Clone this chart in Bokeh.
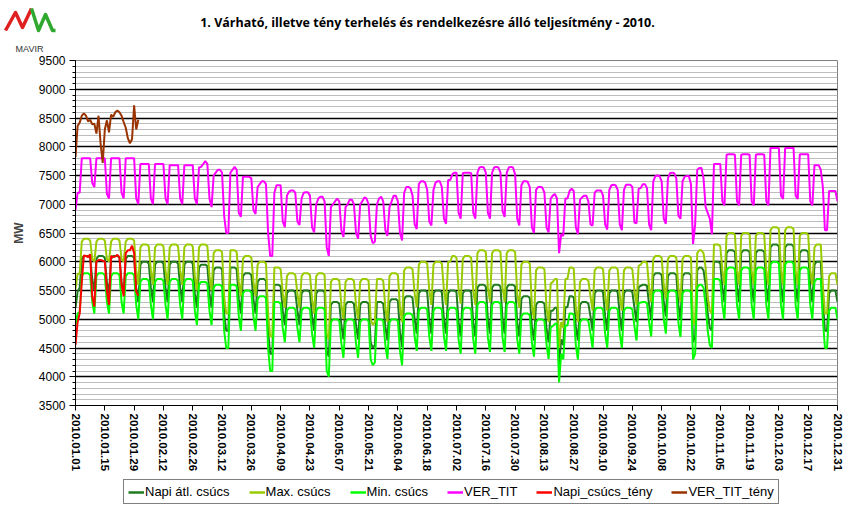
import pandas as pd
from bokeh.plotting import figure
from bokeh.layouts import column
from bokeh.models import (Range1d, FixedTicker, SingleIntervalTicker, Legend, LegendItem,
                          DatetimeTickFormatter)
from bokeh.core.properties import value
from bokeh.embed import file_html
from bokeh.resources import INLINE

title_text = "1. Várható, illetve tény terhelés és rendelkezésre álló teljesítmény - 2010."
logo_text = "MAVIR"
y_label = "MW"
dates = pd.date_range("2010-01-01", "2010-12-31", freq="D")

tick_labels = ["2010.01.01", "2010.01.15", "2010.01.29", "2010.02.12", "2010.02.26", "2010.03.12",
               "2010.03.26", "2010.04.09", "2010.04.23", "2010.05.07", "2010.05.21", "2010.06.04",
               "2010.06.18", "2010.07.02", "2010.07.16", "2010.07.30", "2010.08.13", "2010.08.27",
               "2010.09.10", "2010.09.24", "2010.10.08", "2010.10.22", "2010.11.05", "2010.11.19",
               "2010.12.03", "2010.12.17", "2010.12.31"]

series_names = ["Napi átl. csúcs", "Max. csúcs", "Min. csúcs", "VER_TIT", "Napi_csúcs_tény", "VER_TIT_tény"]
series_colors = ["#1E7B1E", "#99CC00", "#00FF00", "#FF00FF", "#FF0000", "#993300"]

# daily values (Jan 1-3, then Monday..Sunday weeks, then Dec 27-31)
napi_atl_csucs = [
    5200, 5480, 5550,
    6050, 6100, 6100, 6100, 6070, 5700, 5500,
    6050, 6100, 6100, 6100, 6070, 5650, 5450,
    6050, 6100, 6100, 6100, 6070, 5650, 5450,
    6050, 6100, 6100, 6100, 6070, 5550, 5300,
    5950, 6000, 6000, 6000, 5970, 5550, 5300,
    5950, 6000, 6000, 6000, 5970, 5550, 5300,
    5950, 6000, 6000, 6000, 5970, 5550, 5300,
    5950, 6000, 6000, 6000, 5970, 5450, 5200,
    5900, 5950, 5950, 5950, 5920, 5450, 5200,
    5850, 5900, 5900, 5900, 5870, 5100, 4800,
    4800, 5900, 5900, 5900, 5870, 5350, 5100,
    5750, 5800, 5800, 5800, 5770, 5350, 5100,
    5650, 5700, 5700, 5700, 5670, 4800, 4400,
    4400, 5600, 5600, 5600, 5570, 5150, 4900,
    5450, 5500, 5500, 5500, 5470, 5150, 4900,
    5450, 5500, 5500, 5500, 5470, 5050, 4800,
    5450, 5500, 5500, 5500, 5470, 4450, 4350,
    5250, 5300, 5300, 5300, 5270, 4900, 4650,
    5250, 5300, 5300, 5300, 5270, 4900, 4650,
    5250, 5300, 5300, 5300, 5270, 4600, 4500,
    4550, 5300, 5300, 5300, 5270, 4880, 4630,
    5300, 5350, 5350, 5350, 5320, 4770, 4520,
    5350, 5400, 5400, 5400, 5370, 5000, 4750,
    5450, 5500, 5500, 5500, 5470, 5000, 4750,
    5450, 5500, 5500, 5500, 5470, 5000, 4750,
    5450, 5500, 5500, 5500, 5470, 4950, 4700,
    5450, 5500, 5500, 5500, 5470, 4950, 4700,
    5550, 5600, 5600, 5600, 5570, 5000, 4750,
    5550, 5600, 5600, 5600, 5570, 5000, 4750,
    5550, 5600, 5600, 5600, 5570, 4950, 4700,
    5350, 5400, 5400, 5400, 5370, 4880, 4630,
    5250, 5300, 5300, 5300, 5270, 4850, 4600,
    5150, 5150, 5200, 5200, 4200, 4650, 4550,
    5210, 5210, 5400, 5400, 5380, 4880, 4630,
    5250, 5300, 5300, 5300, 5270, 5050, 4800,
    5450, 5500, 5500, 5500, 5470, 5050, 4800,
    5450, 5500, 5500, 5500, 5470, 5050, 4800,
    5450, 5500, 5500, 5500, 5470, 5200, 4950,
    5560, 5580, 5600, 5600, 5580, 5250, 5000,
    5750, 5800, 5800, 5800, 5770, 5300, 5050,
    5750, 5800, 5800, 5800, 5770, 5250, 5000,
    5750, 5800, 5800, 5800, 5770, 4600, 4700,
    5850, 5900, 5900, 5850, 5600, 5100, 4850,
    4800, 6000, 6000, 6000, 5970, 5550, 5300,
    6150, 6200, 6200, 6200, 6170, 5550, 5300,
    6150, 6200, 6200, 6200, 6170, 5550, 5300,
    6150, 6200, 6200, 6200, 6170, 5550, 5300,
    6250, 6300, 6300, 6300, 6270, 5550, 5300,
    6250, 6300, 6300, 6300, 6270, 5550, 5300,
    6150, 6200, 6200, 6200, 6170, 5550, 5300,
    5950, 6000, 6000, 6000, 5300, 4800, 4800,
    5450, 5500, 5500, 5500, 5300,
]

max_csucs = [
    5530, 5790, 5790,
    6350, 6400, 6400, 6400, 6370, 6050, 6000,
    6350, 6400, 6400, 6400, 6370, 6050, 6000,
    6350, 6400, 6400, 6400, 6370, 6050, 6000,
    6350, 6400, 6400, 6400, 6370, 5850, 5600,
    6250, 6300, 6300, 6300, 6270, 5850, 5600,
    6250, 6300, 6300, 6300, 6270, 5850, 5600,
    6250, 6300, 6300, 6300, 6270, 5850, 5600,
    6250, 6300, 6300, 6300, 6270, 5750, 5500,
    6250, 6300, 6300, 6300, 6270, 5750, 5500,
    6150, 6200, 6200, 6200, 6170, 5400, 5100,
    5100, 6200, 6200, 6200, 6170, 5650, 5400,
    6050, 6100, 6100, 6100, 6070, 5650, 5400,
    5950, 6000, 6000, 6000, 5970, 5100, 4700,
    4700, 5900, 5900, 5900, 5870, 5450, 5200,
    5750, 5800, 5800, 5800, 5770, 5450, 5200,
    5750, 5800, 5800, 5800, 5770, 5350, 5100,
    5750, 5800, 5800, 5800, 5770, 4750, 4650,
    5650, 5700, 5700, 5700, 5670, 5250, 5000,
    5650, 5700, 5700, 5700, 5670, 5250, 5000,
    5650, 5700, 5700, 5700, 5670, 5000, 4900,
    4950, 5700, 5700, 5700, 5670, 5200, 4950,
    5750, 5800, 5800, 5800, 5770, 5200, 4950,
    5850, 5900, 5900, 5900, 5870, 5450, 5210,
    5950, 6000, 6000, 6000, 5970, 5500, 5250,
    5950, 6000, 6000, 6000, 5970, 5500, 5250,
    6000, 6000, 6100, 6100, 6070, 5520, 5270,
    6050, 6100, 6100, 6100, 6070, 5500, 5250,
    6150, 6200, 6200, 6200, 6170, 5550, 5300,
    6150, 6200, 6200, 6200, 6170, 5550, 5300,
    6150, 6200, 6200, 6200, 6170, 5450, 5200,
    5950, 6000, 6000, 6000, 5970, 5250, 5000,
    5850, 5900, 5900, 5900, 5870, 5200, 4950,
    5620, 5650, 5700, 5700, 4500, 4950, 4850,
    5700, 5700, 5900, 5900, 5880, 5200, 4950,
    5650, 5700, 5700, 5700, 5670, 5400, 5150,
    5850, 5900, 5900, 5900, 5870, 5400, 5150,
    5850, 5900, 5900, 5900, 5870, 5400, 5150,
    5850, 5900, 5900, 5900, 5870, 5500, 5250,
    5930, 5950, 6000, 6000, 5980, 5550, 5300,
    6050, 6100, 6100, 6100, 6070, 5600, 5350,
    6050, 6100, 6100, 6100, 6070, 5550, 5300,
    6050, 6100, 6100, 6100, 6070, 4900, 5000,
    6150, 6200, 6200, 6150, 5900, 5400, 5150,
    5100, 6300, 6300, 6300, 6270, 5850, 5600,
    6450, 6500, 6500, 6500, 6470, 5850, 5600,
    6450, 6500, 6500, 6500, 6470, 5850, 5600,
    6450, 6500, 6500, 6500, 6470, 5850, 5600,
    6550, 6600, 6600, 6600, 6570, 5850, 5600,
    6550, 6600, 6600, 6600, 6570, 5850, 5600,
    6450, 6500, 6500, 6500, 6470, 5850, 5600,
    6250, 6300, 6300, 6300, 5600, 5100, 5100,
    5750, 5800, 5800, 5800, 5600,
]

min_csucs = [
    4900, 5100, 5130,
    5750, 5800, 5800, 5800, 5770, 5300, 5100,
    5750, 5800, 5800, 5800, 5770, 5300, 5100,
    5750, 5800, 5800, 5800, 5770, 5300, 5100,
    5750, 5800, 5800, 5800, 5770, 5250, 5000,
    5650, 5700, 5700, 5700, 5670, 5250, 5000,
    5650, 5700, 5700, 5700, 5670, 5250, 5000,
    5650, 5700, 5700, 5700, 5670, 5250, 5000,
    5650, 5700, 5700, 5700, 5670, 5150, 4900,
    5600, 5650, 5650, 5650, 5620, 5150, 4900,
    5550, 5600, 5600, 5600, 5570, 4800, 4500,
    4500, 5600, 5600, 5600, 5570, 5050, 4800,
    5450, 5500, 5500, 5500, 5470, 5050, 4800,
    5350, 5400, 5400, 5400, 5370, 4500, 4100,
    4100, 5300, 5300, 5300, 5270, 4850, 4600,
    5150, 5200, 5200, 5200, 5170, 4850, 4600,
    5150, 5200, 5200, 5200, 5170, 4750, 4500,
    5150, 5200, 5200, 5200, 5170, 4100, 4000,
    4950, 5000, 5000, 5000, 4970, 4580, 4330,
    4950, 5000, 5000, 5000, 4970, 4580, 4330,
    4950, 5000, 5000, 5000, 4970, 4300, 4200,
    4250, 5000, 5000, 5000, 4970, 4560, 4310,
    4950, 5000, 5000, 5000, 4970, 4450, 4200,
    5050, 5100, 5100, 5100, 5070, 4700, 4450,
    5150, 5200, 5200, 5200, 5170, 4700, 4450,
    5150, 5200, 5200, 5200, 5170, 4700, 4450,
    5150, 5200, 5200, 5200, 5170, 4650, 4400,
    5150, 5200, 5200, 5200, 5170, 4650, 4400,
    5250, 5300, 5300, 5300, 5270, 4680, 4430,
    5250, 5300, 5300, 5300, 5270, 4680, 4430,
    5250, 5300, 5300, 5300, 5270, 4650, 4400,
    5050, 5100, 5100, 5100, 5070, 4600, 4350,
    4950, 5000, 5000, 5000, 4970, 4560, 4310,
    4860, 4880, 4920, 4920, 3900, 4400, 4300,
    4890, 4890, 5100, 5100, 5080, 4550, 4300,
    4950, 5000, 5000, 5000, 4970, 4750, 4500,
    5150, 5200, 5200, 5200, 5170, 4750, 4500,
    5150, 5200, 5200, 5200, 5170, 4750, 4500,
    5150, 5200, 5200, 5200, 5170, 4880, 4630,
    5280, 5290, 5300, 5300, 5280, 4950, 4700,
    5450, 5500, 5500, 5500, 5470, 5000, 4750,
    5450, 5500, 5500, 5500, 5470, 4940, 4690,
    5450, 5500, 5500, 5500, 5470, 4300, 4400,
    5550, 5600, 5600, 5550, 5250, 4800, 4550,
    4500, 5700, 5700, 5700, 5670, 5250, 5000,
    5850, 5900, 5900, 5900, 5870, 5250, 5000,
    5850, 5900, 5900, 5900, 5870, 5250, 5000,
    5850, 5900, 5900, 5900, 5870, 5250, 5000,
    5950, 6000, 6000, 6000, 5970, 5250, 5000,
    5950, 6000, 6000, 6000, 5970, 5250, 5000,
    5850, 5900, 5900, 5900, 5870, 5250, 5000,
    5650, 5700, 5700, 5700, 5000, 4500, 4500,
    5150, 5200, 5200, 5200, 5000,
]

ver_tit = [
    6900, 7200, 7200,
    7800, 7800, 7800, 7800, 7800, 7370, 7300,
    7800, 7800, 7800, 7800, 7800, 7180, 7100,
    7800, 7800, 7800, 7800, 7800, 7200, 7100,
    7800, 7800, 7800, 7800, 7800, 7100, 7000,
    7700, 7700, 7700, 7700, 7700, 7100, 7000,
    7700, 7700, 7700, 7700, 7700, 7100, 7000,
    7680, 7680, 7680, 7680, 7680, 7100, 7000,
    7680, 7680, 7680, 7680, 7680, 7100, 7000,
    7640, 7650, 7700, 7750, 7700, 7100, 6950,
    7500, 7550, 7600, 7600, 7550, 6800, 6500,
    6500, 7550, 7600, 7650, 7600, 6850, 6780,
    7480, 7480, 7480, 7480, 7450, 6900, 6830,
    7300, 7350, 7400, 7400, 7350, 6500, 6100,
    6100, 7200, 7330, 7330, 7330, 6700, 6600,
    7150, 7220, 7240, 7240, 7200, 6700, 6640,
    7100, 7200, 7210, 7210, 7150, 6600, 6510,
    7000, 7100, 7130, 7130, 7050, 6250, 6100,
    6950, 7000, 7050, 7100, 7050, 6550, 6430,
    6950, 7000, 7080, 7080, 7000, 6500, 6400,
    7000, 7050, 7120, 7100, 7000, 6450, 6320,
    6350, 7000, 7100, 7130, 7050, 6550, 6450,
    6950, 7050, 7150, 7150, 7050, 6500, 6370,
    7200, 7300, 7300, 7280, 7150, 6650, 6570,
    7350, 7400, 7400, 7380, 7250, 6700, 6630,
    7250, 7380, 7400, 7400, 7300, 6750, 6660,
    7420, 7420, 7520, 7550, 7550, 6850, 6750,
    7540, 7550, 7550, 7550, 7540, 6850, 6750,
    7550, 7640, 7650, 7640, 7550, 6850, 6750,
    7550, 7640, 7650, 7640, 7550, 6880, 6780,
    7550, 7640, 7650, 7640, 7520, 6750, 6630,
    7330, 7400, 7400, 7390, 7300, 6600, 6500,
    7250, 7300, 7300, 7290, 7200, 6600, 6510,
    7100, 7150, 7180, 7100, 6150, 6480, 6450,
    7100, 7100, 7230, 7270, 7230, 6600, 6480,
    7080, 7120, 7150, 7150, 7050, 6650, 6630,
    7200, 7240, 7240, 7240, 7150, 6650, 6560,
    7250, 7330, 7340, 7330, 7250, 6650, 6550,
    7250, 7340, 7340, 7340, 7300, 6680, 6670,
    7270, 7280, 7350, 7350, 7280, 6650, 6550,
    7400, 7490, 7500, 7490, 7400, 6750, 6660,
    7450, 7540, 7550, 7540, 7450, 6800, 6750,
    7400, 7480, 7490, 7490, 7350, 6310, 6650,
    7600, 7630, 7630, 7450, 6950, 6850, 6750,
    6480, 7700, 7700, 7700, 7700, 7050, 6980,
    7860, 7870, 7870, 7870, 7860, 7050, 6980,
    7860, 7870, 7870, 7870, 7860, 7050, 6980,
    7860, 7870, 7870, 7870, 7860, 7050, 6980,
    7980, 7980, 7980, 7980, 7980, 7150, 7090,
    7980, 7980, 7980, 7980, 7980, 7150, 7090,
    7870, 7870, 7870, 7870, 7870, 7050, 6980,
    7680, 7680, 7680, 7600, 7300, 6550, 6550,
    7230, 7230, 7230, 7230, 7050,
]

napi_csucs_teny = [4550, 4950, 5100, 5650, 6110, 6100, 6080, 6130, 5400, 5220,
                   6000, 6030, 6030, 6020, 6000, 5500, 5250, 6100, 6080, 6090,
                   6120, 6080, 5600, 5400, 6150, 6200, 6200, 6280, 6150, 5480, 5410]

ver_tit_teny = [7820, 8360, 8420, 8540, 8580, 8540, 8440, 8470, 8390, 8400,
                8230, 8540, 8050, 7720, 8300, 8460, 8250, 8560, 8520, 8600,
                8630, 8600, 8540, 8430, 8330, 8150, 8060, 8130, 8720, 8300, 8470]

HEAD_H = 53
FOOT_H = 33
CHART_H = 510 - HEAD_H - FOOT_H


def bare(height):
    f = figure(width=848, height=height, x_range=Range1d(0, 848), y_range=Range1d(height, 0),
               output_backend="svg", toolbar_location=None, min_border=0,
               x_axis_location=None, y_axis_location=None)
    f.grid.visible = False
    f.outline_line_color = None
    return f


# ---------- header (logo + title), pixel coordinates ----------
head = bare(HEAD_H)
head.line([5, 15, 22, 31], [30, 12, 27, 8], line_color="#E02020", line_width=3.5, line_join="round")
head.line([31, 38, 45, 52, 55], [8, 30, 14, 30, 30], line_color="#2EA82E", line_width=3.5, line_join="round")
head.text(x=[29], y=[48], text=[logo_text], text_font=value("Liberation Sans"), text_font_size="9px",
          text_align="center", text_baseline="middle", text_color="#333333")
head.text(x=[427], y=[22], text=[title_text], text_font=value("Open Sans"), text_font_style="bold",
          text_font_size="12.5px", text_align="center", text_baseline="middle", text_color="black")

# ---------- chart ----------
p = figure(width=848, height=CHART_H, x_axis_type="datetime", output_backend="svg",
           toolbar_location=None, min_border_left=75, min_border_right=11,
           min_border_top=60 - HEAD_H, min_border_bottom=CHART_H - (60 - HEAD_H) - 345)
p.x_range = Range1d(dates[0], dates[-1])
p.y_range = Range1d(3500, 9500)

all_series = [napi_atl_csucs, max_csucs, min_csucs, ver_tit, napi_csucs_teny, ver_tit_teny]
for vals, col in zip(all_series, series_colors):
    p.line(dates[:len(vals)], vals, line_color=col, line_width=2)

tick_dates = pd.to_datetime(tick_labels, format="%Y.%m.%d")
p.xaxis.ticker = FixedTicker(ticks=[t.timestamp() * 1000 for t in tick_dates], minor_ticks=[])
fmt = "%Y.%m.%d"
p.xaxis.formatter = DatetimeTickFormatter(days=fmt, months=fmt, years=fmt, hours=fmt, hourmin=fmt,
                                          minutes=fmt, minsec=fmt, seconds=fmt, milliseconds=fmt,
                                          microseconds=fmt)
p.xaxis.major_label_orientation = "vertical"
p.xaxis.major_label_text_font = "Liberation Sans"
p.xaxis.major_label_text_font_style = "bold"
p.xaxis.major_label_text_font_size = "11.5px"
p.xaxis.major_label_text_color = "black"
p.xaxis.axis_line_color = "black"
p.xaxis.major_tick_line_color = "black"
p.xaxis.major_tick_out = 5
p.xaxis.major_tick_in = 0
p.xaxis.major_label_standoff = 3

p.yaxis.ticker = SingleIntervalTicker(interval=500, num_minor_ticks=5)
p.yaxis.major_label_text_font = "Liberation Sans Narrow, Liberation Sans"
p.yaxis.major_label_text_font_size = "12px"
p.yaxis.major_label_text_color = "black"
p.yaxis.axis_line_color = "black"
p.yaxis.major_tick_line_color = "black"
p.yaxis.minor_tick_line_color = "black"
p.yaxis.major_tick_out = 6
p.yaxis.major_tick_in = 0
p.yaxis.minor_tick_out = 3
p.yaxis.minor_tick_in = 0
p.yaxis.major_label_standoff = 4
p.yaxis.axis_label = y_label
p.yaxis.axis_label_text_font = "Liberation Sans"
p.yaxis.axis_label_text_font_style = "bold"
p.yaxis.axis_label_text_font_size = "12px"
p.yaxis.axis_label_standoff = 10

p.xgrid.grid_line_color = None
p.ygrid.grid_line_color = "black"
p.ygrid.grid_line_width = 1.3
p.ygrid.minor_grid_line_color = "#BDBDBD"
p.ygrid.minor_grid_line_width = 1
p.outline_line_color = "#808080"
p.background_fill_color = "white"
p.border_fill_color = "white"

# ---------- footer with the legend (swatch renderers sit outside the footer's visible range) ----------
foot = bare(FOOT_H)
swatches = [foot.line([-20, -10], [-20, -20], line_color=col, line_width=2.5) for col in series_colors]
legend = Legend(items=[LegendItem(label=n, renderers=[r]) for n, r in zip(series_names, swatches)],
                orientation="horizontal", location=(123, 6),
                label_text_font="Liberation Sans Narrow, Liberation Sans", label_text_font_size="13px",
                label_text_color="black",
                glyph_width=16, glyph_height=12, label_standoff=1, spacing=19, padding=4, margin=0,
                border_line_color="black", border_line_width=1, background_fill_alpha=1)
foot.add_layout(legend)

for fig in (head, p, foot):
    fig.frame_align = False

layout = column(head, p, foot, spacing=0)
open("out.html", "w").write(file_html(layout, INLINE))
